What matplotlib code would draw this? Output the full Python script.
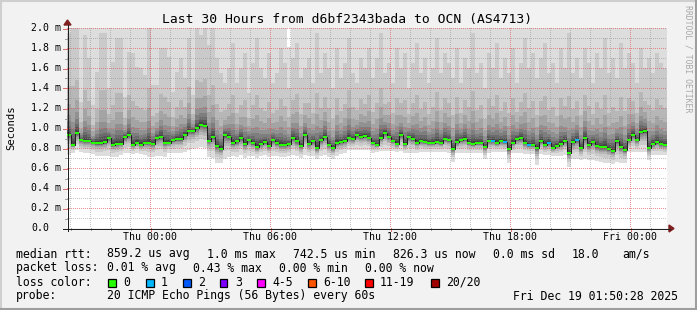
import numpy as np
import matplotlib
matplotlib.use("Agg")
import matplotlib.pyplot as plt
from matplotlib.patches import Rectangle, Polygon
from matplotlib.lines import Line2D

# ---------------- data ----------------
title = "Last 30 Hours from d6bf2343bada to OCN (AS4713)"
hour_ticks = [0, 6, 12, 18, 24]
hour_labels = ["Thu 00:00", "Thu 06:00", "Thu 12:00", "Thu 18:00", "Fri 00:00"]
y_ticks = [0.0, 0.2, 0.4, 0.6, 0.8, 1.0, 1.2, 1.4, 1.6, 1.8, 2.0]
y_labels = ["0.0", "0.2 m", "0.4 m", "0.6 m", "0.8 m", "1.0 m", "1.2 m", "1.4 m", "1.6 m", "1.8 m", "2.0 m"]

t_start = -4.15      # hours relative to Thu 00:00
step_h = 0.2         # 12 minute consolidation

# median rtt (ms) per step
median = [0.933,0.833,0.947,0.877,0.867,0.867,0.853,0.847,0.847,0.857,
          0.897,0.833,0.843,0.843,0.907,0.927,0.833,0.853,0.833,0.853,
          0.853,0.843,0.897,0.907,0.853,0.853,0.877,0.887,0.887,0.933,
          0.967,0.967,0.997,1.033,1.023,0.873,0.907,0.817,0.793,0.927,
          0.910,0.847,0.867,0.897,0.837,0.877,0.847,0.807,0.837,0.857,
          0.817,0.877,0.847,0.827,0.827,0.837,0.897,0.867,0.817,0.927,
          0.837,0.867,0.797,0.877,0.907,0.827,0.797,0.847,0.857,0.867,
          0.897,0.887,0.927,0.907,0.917,0.897,
          0.847,0.827,0.897,0.947,0.907,0.867,0.837,0.927,0.837,0.907,
          0.887,0.847,0.867,0.857,0.847,0.847,0.857,0.847,0.887,0.877,
          0.790,0.857,0.877,0.887,0.847,0.837,0.847,0.847,0.807,0.867,
          0.867,0.847,0.867,0.857,0.787,0.847,0.887,0.897,0.847,0.827,
          0.827,0.797,0.867,0.827,0.847,0.797,0.817,0.837,0.867,0.747,
          0.857,0.877,0.797,0.897,0.827,0.857,0.817,0.807,0.807,0.787,
          0.767,0.867,0.807,0.777,0.877,0.927,0.877,0.957,0.967,0.797,
          0.837,0.857,0.837,0.827]

# lost pings (out of 20) per step
loss_steps = [106, 109, 115, 120, 127]
loss_values = [1, 1, 1, 1, 1]

# smoke: lowest ping per step
ping_min = [0.73,0.75,0.78,0.76,0.75,0.75,0.74,0.72,0.72,0.72,
            0.72,0.71,0.71,0.73,0.75,0.75,0.74,0.75,0.74,0.73,
            0.71,0.71,0.72,0.72,0.71,0.75,0.75,0.75,0.75,0.76,
            0.78,0.79,0.80,0.81,0.80,0.71,0.70,0.65,0.65,0.69,
            0.71,0.72,0.71,0.73,0.70,0.72,0.72,0.70,0.72,0.73,
            0.71,0.72,0.72,0.71,0.71,0.72,0.73,0.72,0.70,0.73,
            0.72,0.72,0.69,0.72,0.73,0.71,0.69,0.72,0.74,0.75,
            0.78,0.78,0.78,0.78,0.78,0.78,
            0.75,0.76,0.77,0.77,0.77,0.77,0.76,0.77,0.75,0.75,
            0.75,0.75,0.76,0.76,0.76,0.76,0.76,0.76,0.76,0.75,
            0.66,0.75,0.75,0.75,0.75,0.75,0.75,0.75,0.69,0.75,
            0.76,0.76,0.76,0.76,0.65,0.75,0.75,0.75,0.74,0.74,
            0.74,0.63,0.74,0.73,0.73,0.72,0.72,0.72,0.73,0.61,
            0.69,0.69,0.68,0.69,0.68,0.68,0.67,0.66,0.65,0.65,
            0.64,0.66,0.65,0.65,0.76,0.76,0.76,0.76,0.76,0.68,
            0.73,0.73,0.73,0.73]

# smoke: upper pings per step (20th and 19th of 20 sorted)
ping_20 = [2.05]*55 + [1.81] + [2.05]*94
ping_19 = [1.95,2.05,2.05,1.26,1.93,1.70,1.23,1.56,1.95,1.95,
           1.40,1.66,1.90,1.90,1.31,1.76,1.75,1.61,1.60,1.53,
           2.00,1.43,1.43,1.80,1.80,1.71,1.36,1.56,1.70,1.50,
           1.90,1.33,2.00,1.93,2.00,1.83,2.00,1.70,1.55,1.45,
           1.60,1.85,1.45,1.60,1.75,1.35,1.65,1.90,1.60,1.50,
           1.75,1.45,1.55,1.80,1.65,1.40,1.70,1.85,1.50,1.60,
           1.70,1.45,1.95,1.55,1.75,1.60,1.40,1.80,1.50,1.65,
           1.90,1.55,1.45,1.70,1.60,1.80,
           1.50,1.70,1.95,1.55,1.65,1.45,1.80,1.60,1.75,1.40,
           1.65,1.85,1.55,1.70,1.45,1.60,1.90,1.55,1.75,1.65,
           1.50,1.80,1.45,1.70,1.60,1.95,1.55,1.65,1.40,1.75,
           1.60,1.85,1.50,1.70,1.55,1.80,1.45,1.65,1.90,1.60,
           1.75,1.50,1.70,1.85,1.55,1.65,1.45,1.80,1.60,1.95,
           1.55,1.70,1.50,1.80,1.65,1.45,1.75,1.60,1.90,1.55,
           1.70,1.50,1.85,1.60,1.75,1.65,1.45,1.80,1.60,1.70,
           1.55,1.75,1.65,1.60]

legend_rtt = [("median rtt:", 16), ("859.2 us avg", 107), ("1.0 ms max", 207),
              ("742.5 us min", 293), ("826.3 us now", 393), ("0.0 ms sd", 493),
              ("18.0", 572), ("am/s", 622)]
legend_loss = [("packet loss:", 16), ("0.01 % avg", 107), ("0.43 % max", 193),
               ("0.00 % min", 279), ("0.00 % now", 365)]
loss_labels = ["0", "1", "2", "3", "4-5", "6-10", "11-19", "20/20"]
loss_colors = ["#26ff00", "#00b8ff", "#0059ff", "#7e00ff", "#ff00ff", "#ff5500", "#ff0000", "#a10000"]
loss_box_x = [108, 146, 183, 220, 257, 308, 365, 431]
probe_text = "20 ICMP Echo Pings (56 Bytes) every 60s"
stamp_text = "Fri Dec 19 01:50:28 2025"

# ---------------- figure ----------------
W, H = 697, 310
fig = plt.figure(figsize=(W / 100, H / 100), dpi=100)
fig.patch.set_facecolor("#f2f2f2")
MONO = "DejaVu Sans Mono"

def ftext(x, y, s, **kw):
    kw.setdefault("family", MONO)
    fig.text(x / W, 1 - y / H, s, **kw)

def fline(xs, ys, **kw):
    fig.add_artist(Line2D([x / W for x in xs], [1 - y / H for y in ys], **kw))

# 3D border
fline([0, W], [0.5, 0.5], color="#cfcfcf", lw=1.5)
fline([0.5, 0.5], [0, H], color="#cfcfcf", lw=1.5)
fline([0, W], [H - 1, H - 1], color="#9e9e9e", lw=1.5)
fline([W - 1, W - 1], [0, H], color="#9e9e9e", lw=1.5)

X0, X1, Y0, Y1 = 67, 667, 28, 228
PW, PH = X1 - X0, Y1 - Y0
ax = fig.add_axes([X0 / W, 1 - Y1 / H, PW / W, PH / H])
n = len(median)
t_end = t_start + 30
ax.set_xlim(t_start, t_end)
ax.set_ylim(0, 2.0)
ax.axis("off")
ax.add_patch(Rectangle((0, 0), 1, 1, transform=ax.transAxes, color="white", zorder=0))

edges = t_start + step_h * np.arange(n + 1)
med = np.array(median)
lo = np.array(ping_min)
p19 = np.array(ping_19)
p = {1: lo, 19: p19, 20: np.array(ping_20)}
# inner pings: smoke shading between the read outer edges and the median
for i, f in zip(range(2, 10), [0.35, 0.55, 0.68, 0.78, 0.85, 0.90, 0.94, 0.975]):
    p[i] = lo + (med - lo) * f
p[10] = med - 0.006
p[11] = med + 0.006
for i, f in zip(range(12, 19), [0.03, 0.055, 0.085, 0.13, 0.19, 0.3, 0.48]):
    p[i] = med + (p19 - med) * f

def ext(a):
    return np.append(a, a[-1])

for i in range(1, 11):
    g = int(190 / 10 * (10 - i)) + 50
    col = "#%02x%02x%02x" % (g, g, g)
    ax.fill_between(edges, ext(p[i]), ext(p[21 - i]), step="post", color=col,
                    lw=0, antialiased=False, zorder=1)

# dotted grid as a pixel-exact overlay (drawn over the smoke)
MINOR = (0.56, 0.56, 0.56, 0.5)
MAJOR = (0.87, 0.31, 0.31, 0.6)
grid = np.zeros((PH, PW, 4))
for j in range(1, 21):
    r = PH - 10 * j
    grid[r, 0::2] = MAJOR if j % 2 == 0 else MINOR
for h in range(-4, 26):
    c = 150 + 20 * h - X0
    grid[0::2, c] = MAJOR if h % 6 == 0 else MINOR
ax.imshow(grid, extent=(t_start, t_end, 0, 2.0), origin="upper", aspect="auto",
          interpolation="nearest", zorder=2)

# median: black step line + loss coloured marks
px = 0.72
ax.plot(edges, ext(med), drawstyle="steps-post", color="#202020", lw=px, zorder=3)
loss = np.zeros(n, dtype=int)
for k, lv in zip(loss_steps, loss_values):
    loss[k] = lv
def loss_col(l):
    if l <= 3:
        return loss_colors[l]
    if l <= 5:
        return loss_colors[4]
    if l <= 10:
        return loss_colors[5]
    if l <= 19:
        return loss_colors[6]
    return loss_colors[7]
bar_cols = [loss_col(l) for l in loss]
ax.bar(edges[:-1], 0.02, width=step_h, bottom=med - 0.01, align="edge",
       color=bar_cols, lw=0, zorder=4, antialiased=False)
ax.set_xlim(t_start, t_end)
ax.set_ylim(0, 2.0)

# axes lines, ticks and arrows (pixel coordinates)
for h in range(-4, 26):
    x = 150.5 + 20 * h
    if h % 6 == 0:
        fline([x, x], [228, 231], color=(0.87, 0.31, 0.31, 0.8), lw=px)
    else:
        fline([x, x], [228, 230], color=(0.56, 0.56, 0.56, 0.8), lw=px)
for j in range(0, 21):
    y = 228.5 - 10 * j
    if j % 2 == 0:
        fline([63, 67], [y, y], color=(0.87, 0.31, 0.31, 0.8), lw=px)
    else:
        fline([65, 67], [y, y], color=(0.56, 0.56, 0.56, 0.8), lw=px)
fline([63, 670], [228.5, 228.5], color="#1f1f1f", lw=px)
fline([67.5, 67.5], [231, 25], color="#1f1f1f", lw=px)
fig.add_artist(Polygon([(669 / W, 1 - 225 / H), (669 / W, 1 - 232 / H), (674 / W, 1 - 228.5 / H)],
                       closed=True, color="#801f1f", transform=fig.transFigure))
fig.add_artist(Polygon([(64 / W, 1 - 25 / H), (71 / W, 1 - 25 / H), (67.5 / W, 1 - 20 / H)],
                       closed=True, color="#801f1f", transform=fig.transFigure))

# texts
ftext(347, 19, title, ha="center", va="center", size=9.4)
for v, lab in zip(y_ticks, y_labels):
    ftext(31, 228 - 100 * v, lab, ha="left", va="center", size=7.1)
for h, lab in zip(hour_ticks, hour_labels):
    ftext(150 + 20 * h, 237, lab, ha="center", va="center", size=7.1)
ftext(11, 128, "Seconds", ha="center", va="center", size=7.6, rotation=90)
ftext(688, 5, "RRDTOOL / TOBI OETIKER", ha="center", va="top", size=5.9,
      rotation=270, color="#a8a8a8")

LS = 8.3
for s, x in legend_rtt:
    ftext(x, 254, s, ha="left", va="center", size=LS)
for s, x in legend_loss:
    ftext(x, 268, s, ha="left", va="center", size=LS)
ftext(16, 282, "loss color:", ha="left", va="center", size=LS)
for lab, col, bx in zip(loss_labels, loss_colors, loss_box_x):
    fig.add_artist(Rectangle((bx / W, 1 - 286.5 / H), 7.5 / W, 8 / H, transform=fig.transFigure,
                             facecolor=col, edgecolor="black", lw=0.9))
    ftext(bx + 15, 282, lab, ha="left", va="center", size=LS)
ftext(16, 296, "probe:", ha="left", va="center", size=LS)
ftext(107, 296, probe_text, ha="left", va="center", size=LS)
ftext(513, 296, stamp_text, ha="left", va="center", size=LS)

fig.savefig("out.png", dpi=100, facecolor=fig.get_facecolor())
